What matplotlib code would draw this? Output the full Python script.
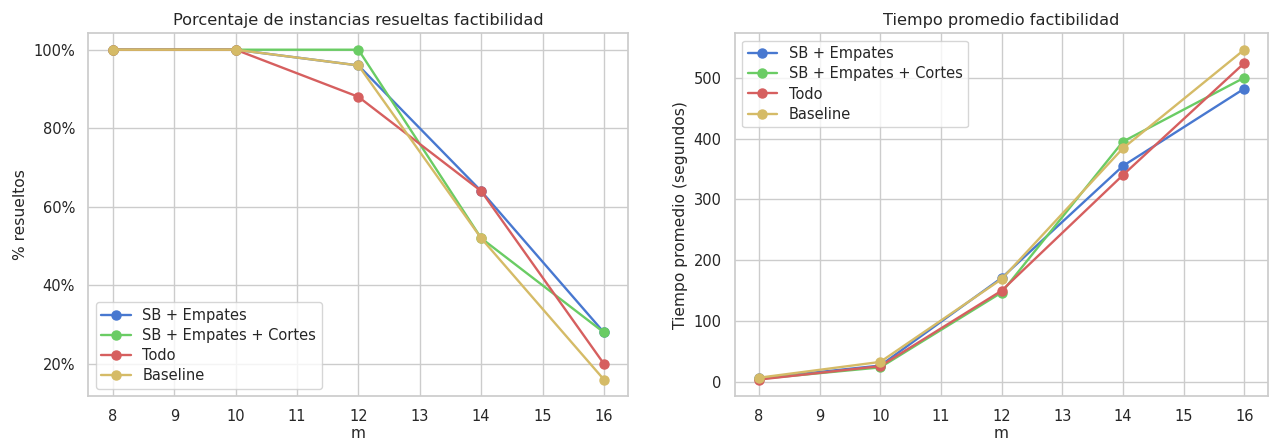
import matplotlib
matplotlib.use("Agg")
import matplotlib.pyplot as plt
from matplotlib.ticker import PercentFormatter
import seaborn as sns

m_values = [8, 10, 12, 14, 16]
labels = ["SB + Empates", "SB + Empates + Cortes", "Todo", "Baseline"]

# fraction of instances solved
resueltos_sb = [1.00, 1.00, 0.96, 0.64, 0.28]
resueltos_sb_cortes = [1.00, 1.00, 1.00, 0.52, 0.28]
resueltos_todo = [1.00, 1.00, 0.88, 0.64, 0.20]
resueltos_baseline = [1.00, 1.00, 0.96, 0.52, 0.16]

# mean time in seconds
tiempo_sb = [6, 27, 171, 355, 482]
tiempo_sb_cortes = [5, 24, 147, 395, 500]
tiempo_todo = [4, 26, 150, 340, 524]
tiempo_baseline = [7, 33, 169, 384, 546]

sns.set_theme(style="whitegrid", palette="muted")
plt.rcParams["font.family"] = ["DejaVu Sans"]

fig = plt.figure(figsize=(12.8, 4.43), dpi=100)
ax1 = fig.add_axes([0.069, 0.106, 0.422, 0.819])
ax2 = fig.add_axes([0.574, 0.106, 0.417, 0.819])

muted = sns.color_palette("muted")
colors = [muted[0], muted[2], muted[3], muted[8]]

for ys, lab, c in zip([resueltos_sb, resueltos_sb_cortes, resueltos_todo, resueltos_baseline], labels, colors):
    ax1.plot(m_values, ys, marker="o", markersize=6.5, linewidth=1.7, label=lab, color=c)
ax1.set_title("Porcentaje de instancias resueltas factibilidad", fontsize=11.6)
ax1.set_xlabel("m", fontsize=11.2, labelpad=1)
ax1.set_ylabel("% resueltos", fontsize=11.2)
ax1.yaxis.set_major_formatter(PercentFormatter(1.0, decimals=0))
ax1.set_xticks(range(8, 17))
ax1.tick_params(labelsize=10.5)
ax1.legend(loc="lower left", fontsize=10.5, labelspacing=0.35)

for ys, lab, c in zip([tiempo_sb, tiempo_sb_cortes, tiempo_todo, tiempo_baseline], labels, colors):
    ax2.plot(m_values, ys, marker="o", markersize=6.5, linewidth=1.7, label=lab, color=c)
ax2.set_title("Tiempo promedio factibilidad", fontsize=11.6)
ax2.set_xlabel("m", fontsize=11.2, labelpad=1)
ax2.set_ylabel("Tiempo promedio (segundos)", fontsize=11.2)
ax2.set_xticks(range(8, 17))
ax2.tick_params(labelsize=10.5)
ax2.legend(loc="upper left", fontsize=10.5, labelspacing=0.35)

fig.savefig("out.png", dpi=100)
